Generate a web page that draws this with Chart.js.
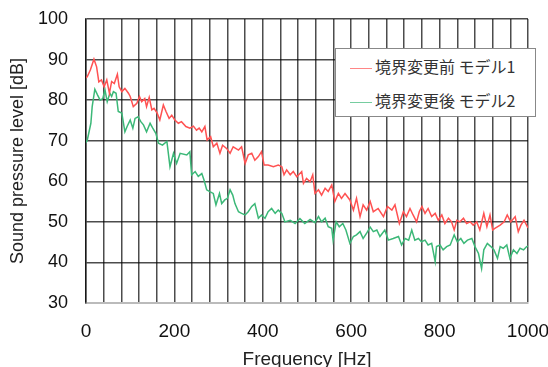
<!DOCTYPE html>
<html>
<head>
<meta charset="utf-8">
<script src="https://cdn.jsdelivr.net/npm/chart.js@4"></script>
<style>
  body { margin: 0; background: #fff; }
  #wrap { position: relative; width: 548px; height: 367px; }
  #legend {
    position: absolute; left: 335px; top: 48px; width: 199px; height: 67px;
    background: #fff; border: 1px solid #888;
    font-family: "Noto Sans CJK JP", sans-serif; font-size: 16px; color: #333;
  }
  #legend .row { position: absolute; left: 14px; height: 22px; line-height: 22px; white-space: nowrap; }
  #legend .sw { display: inline-block; width: 22px; height: 1.5px; vertical-align: middle; margin-right: 3px; opacity: 0.7; }
</style>
</head>
<body>
<div id="wrap">
  <canvas id="c" width="548" height="367"></canvas>
  <div id="legend"></div>
</div>
<script>
const seriesNames = ["境界変更前 モデル1", "境界変更後 モデル2"];
const seriesColors = ["#ff5252", "#3cb878"];

const redHz = [0,3,10,18,24,29,35,41,47,53,58,64,71,75,81,88,96,100,107,115,121,126,133,137,143,149,154,161,167,175,181,188,194,201,209,216,226,235,243,250,256,262,269,274,282,288,296,303,309,318,326,333,345,352,360,367,375,382,390,397,403,412,424,435,443,448,454,462,469,477,488,492,499,507,513,518,526,533,541,548,556,563,571,578,586,597,605,612,620,627,635,643,650,661,673,682,692,699,709,718,725,733,740,748,754,760,767,774,782,790,797,805,812,820,827,833,839,846,854,861,869,876,884,891,900,907,914,920,925,937,946,953,961,971,978,984,991,1000];
const redDb = [85.5,85.8,87.5,90.1,88.2,84.5,85,83.3,85,81.7,84.6,84.1,86.4,83.3,82.1,82.9,81.7,80.9,78.4,79.2,80.9,79.6,80.4,78.4,80.7,77.6,78,76.8,75.1,78.8,77.2,75.5,76.3,75.1,74.3,74.7,73.5,73.1,73.6,72.6,73.1,72.2,73.5,70.2,71,68.5,69.4,66.9,68.9,68.1,66.9,68.5,67.7,68.5,64.4,66.5,66.9,65.2,66.1,67.3,64,64,63.6,64,63.6,61.6,62.8,61.6,62.4,61.1,62.4,59.5,60.7,59.9,61.6,57,57.9,56.6,58.3,57.5,59.1,55,57,55.8,57,55.4,52.9,55.8,51.3,54.2,52.9,55,52.5,53.3,51.3,53.8,52.9,54.2,49.6,52.5,51.3,53.3,51.7,50,52.5,53.8,52.1,53.3,51.3,52.1,50.4,51.7,49.6,50.9,50,48,50.4,50,50.9,49.6,50,49.2,50,48,52.1,48.8,51.7,48,48.4,49.2,50,51.7,50,51.3,47.6,49.2,50.4,48.5];

const greenHz = [0,3,11,14,20,26,32,38,43,48,54,58,62,68,73,81,88,93,100,106,111,118,124,130,137,145,151,158,164,173,183,190,198,205,213,228,235,239,247,254,262,267,273,281,288,294,302,307,314,320,326,332,337,345,352,360,367,375,382,390,397,405,412,420,428,435,443,450,462,473,484,495,507,518,526,533,541,548,556,559,566,573,581,588,597,605,612,620,627,635,643,650,658,665,676,684,695,707,714,722,730,737,744,752,759,767,774,782,790,793,801,808,816,824,833,840,848,855,863,873,880,888,895,900,908,916,923,931,937,944,952,959,967,975,982,990,997,1000];
const greenDb = [69.5,70.2,74.3,78.4,82.7,81.3,80,80.4,82.5,79.6,81.7,80.9,82.1,81.7,77.2,76.8,72.2,73.5,75.1,73.1,75.5,75.9,74.7,73.9,72.2,74.3,73.1,71.8,69.4,68.9,69.8,63.6,66.9,64.4,66.9,66.5,67.3,61.6,62.4,61.2,61.9,60.3,57.9,57.4,57,54.2,57,54.5,55.4,55.8,57.9,56.6,54.5,52.5,52.1,51.7,52.5,53.8,54.5,50.9,51.7,50.9,52.5,53.3,52.1,52.9,52.1,50,50.4,49.6,50.8,49.6,50.6,49.8,51.3,50,50.9,48.8,48.4,45.5,50,48.8,49.6,48,44.7,46.4,46.8,47.6,45.9,47.2,48.7,47.6,48,46.4,48,45.5,45.9,46.4,44.3,45.9,45.5,48,45.5,45.9,45.1,45.5,44.3,44.7,40.2,43.9,44.3,43.1,43.9,44.3,46.8,45.1,45.9,44.7,45.5,45.9,43.9,42.2,38.5,43.1,44.7,43.9,43.1,41,43.9,43.5,44.3,41,43.1,42.2,43.5,43.1,43.9,44];

const xLabels = [0, 200, 400, 600, 800, 1000];

function pts(xs, ys) { return xs.map((x, i) => ({ x: x, y: ys[i] })); }

const tickFont = { family: "'Liberation Sans', Arial, sans-serif", size: 19 };

new Chart(document.getElementById("c"), {
  type: "line",
  data: {
    datasets: [
      { label: seriesNames[0], data: pts(redHz, redDb), borderColor: seriesColors[0], borderWidth: 1.5, pointRadius: 0, tension: 0 },
      { label: seriesNames[1], data: pts(greenHz, greenDb), borderColor: seriesColors[1], borderWidth: 1.5, pointRadius: 0, tension: 0 }
    ]
  },
  options: {
    responsive: false,
    animation: false,
    devicePixelRatio: 1,
    layout: { padding: { left: 0, right: 20, top: 19, bottom: 0 } },
    plugins: { legend: { display: false }, tooltip: { enabled: false } },
    scales: {
      x: {
        type: "linear", min: 0, max: 1000,
        afterFit: s => { s.height = 64; s.paddingLeft = 0; s.paddingRight = 0; },
        afterBuildTicks: s => { s.ticks = []; for (let v = 0; v <= 1000; v += 40) s.ticks.push({ value: v }); },
        ticks: {
          autoSkip: false, maxRotation: 0, padding: 17, color: "#111", font: tickFont,
          callback: v => xLabels.includes(v) ? String(v) : ""
        },
        grid: { color: "rgba(0,0,0,0.7)", lineWidth: 1.5, drawTicks: false },
        border: { color: "#bbb", width: 2 },
        title: { display: true, text: "Frequency [Hz]", color: "#222", font: tickFont, padding: { top: 0, bottom: -4 } }
      },
      y: {
        min: 30, max: 100,
        afterFit: s => { s.width = 86; s.paddingTop = 0; s.paddingBottom = 0; },
        ticks: { stepSize: 10, padding: 18, color: "#111", font: { family: "'Liberation Sans', Arial, sans-serif", size: 18 } },
        grid: { color: c => c.tick && c.tick.value === 30 ? "#bbb" : "rgba(0,0,0,0.7)", lineWidth: 1.5, drawTicks: false },
        border: { color: "rgba(0,0,0,0.7)", width: 1.5 },
        title: { display: true, text: "Sound pressure level [dB]", color: "#222", font: { family: "'Liberation Sans', Arial, sans-serif", size: 18 }, padding: { top: 7, bottom: 0 } }
      }
    }
  }
});

const lg = document.getElementById("legend");
seriesNames.forEach((name, i) => {
  const row = document.createElement("div");
  row.className = "row";
  row.style.top = (i === 0 ? 6 : 40) + "px";
  row.innerHTML = '<span class="sw" style="background:' + seriesColors[i] + '"></span>' + name;
  lg.appendChild(row);
});
</script>
</body>
</html>
